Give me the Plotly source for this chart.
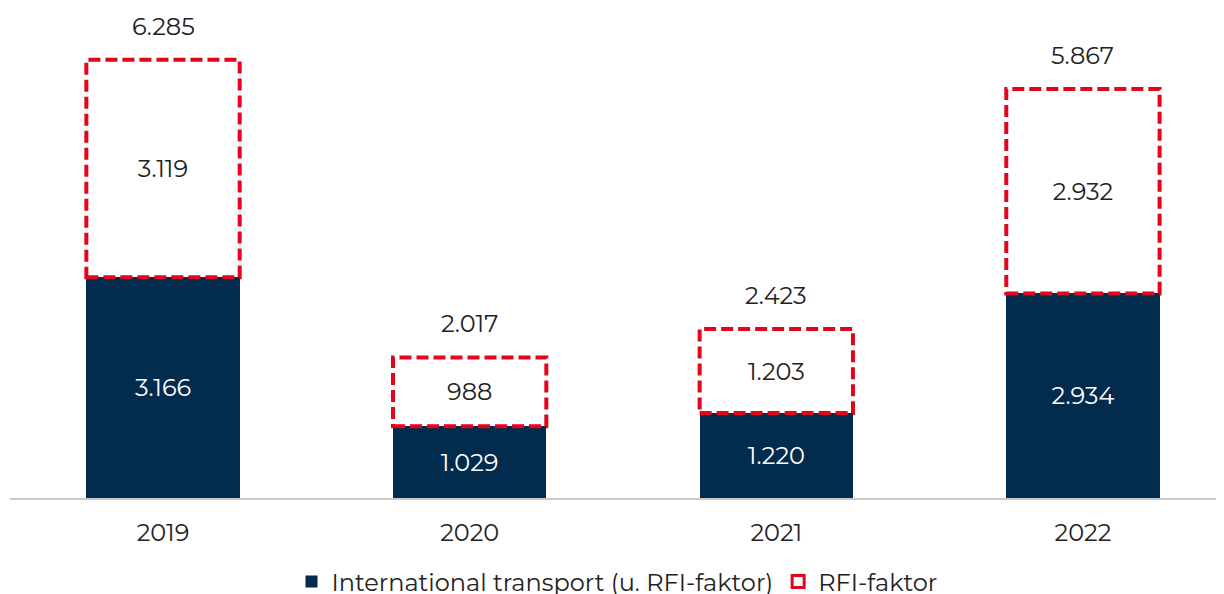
import plotly.graph_objects as go

# Daten (Tsd. t CO2e)
years = ["2019", "2020", "2021", "2022"]
intl = [3166, 1029, 1220, 2934]
rfi = [3119, 988, 1203, 2932]
totals = [6285, 2017, 2423, 5867]

navy = "#022b4e"
red = "#e3051b"
font_family = "Montserrat, Open Sans, sans-serif"


def de(v):
    return f"{v:,}".replace(",", ".")


fig = go.Figure()

fig.add_trace(go.Bar(
    x=years, y=intl, name="International transport (u. RFI-faktor)",
    marker=dict(color=navy, line=dict(width=0)),
    text=[de(v) for v in intl], textposition="inside", insidetextanchor="middle",
    textfont=dict(color="white", size=24, family=font_family),
    hoverinfo="skip",
))
fig.add_trace(go.Bar(
    x=years, y=rfi, name="RFI-faktor", showlegend=False,
    marker=dict(color="rgba(255,255,255,0)", line=dict(width=0)),
    text=[de(v) for v in rfi], textposition="inside", insidetextanchor="middle",
    textfont=dict(color="#222222", size=24, family=font_family),
    hoverinfo="skip",
))
# nur fuer die Legende
fig.add_trace(go.Bar(
    x=[None], y=[None], name="RFI-faktor",
    marker=dict(color="white", line=dict(color=red, width=3)),
))

# gestrichelte Rahmen fuer RFI-Anteil
for i, (a, b) in enumerate(zip(intl, rfi)):
    fig.add_shape(type="rect", xref="x", yref="y",
                  x0=i - 0.25, x1=i + 0.25, y0=a, y1=a + b,
                  line=dict(color=red, width=4, dash="12px,5px"),
                  fillcolor="rgba(0,0,0,0)", layer="above")

# Summen oben
for i, t in enumerate(totals):
    fig.add_annotation(x=i, y=t, xref="x", yref="y", text=de(t),
                       showarrow=False, yanchor="bottom", yshift=17,
                       font=dict(size=24, color="#222222", family=font_family))

# Seite hat 8px body-Rand -> Figur etwas kleiner
fig.update_layout(
    width=1216, height=586,
    barmode="stack", bargap=0.5,
    separators=",.",
    plot_bgcolor="white", paper_bgcolor="white",
    margin=dict(l=2, r=0, t=2, b=96, autoexpand=False),
    font=dict(family=font_family, size=24, color="#222222"),
    xaxis=dict(type="category", range=[-0.499, 3.46], showline=True,
               linecolor="#c9c9c9", linewidth=2, ticks="", showgrid=False,
               tickfont=dict(size=24, color="#222222"), ticklabelstandoff=12),
    yaxis=dict(range=[0, 7000], visible=False, showgrid=False),
    legend=dict(orientation="h", x=0.5, xanchor="center", y=-0.172, yanchor="middle",
                font=dict(size=24, color="#222222"), itemwidth=30,
                traceorder="normal"),
    showlegend=True,
)

fig.write_html("out.html")
